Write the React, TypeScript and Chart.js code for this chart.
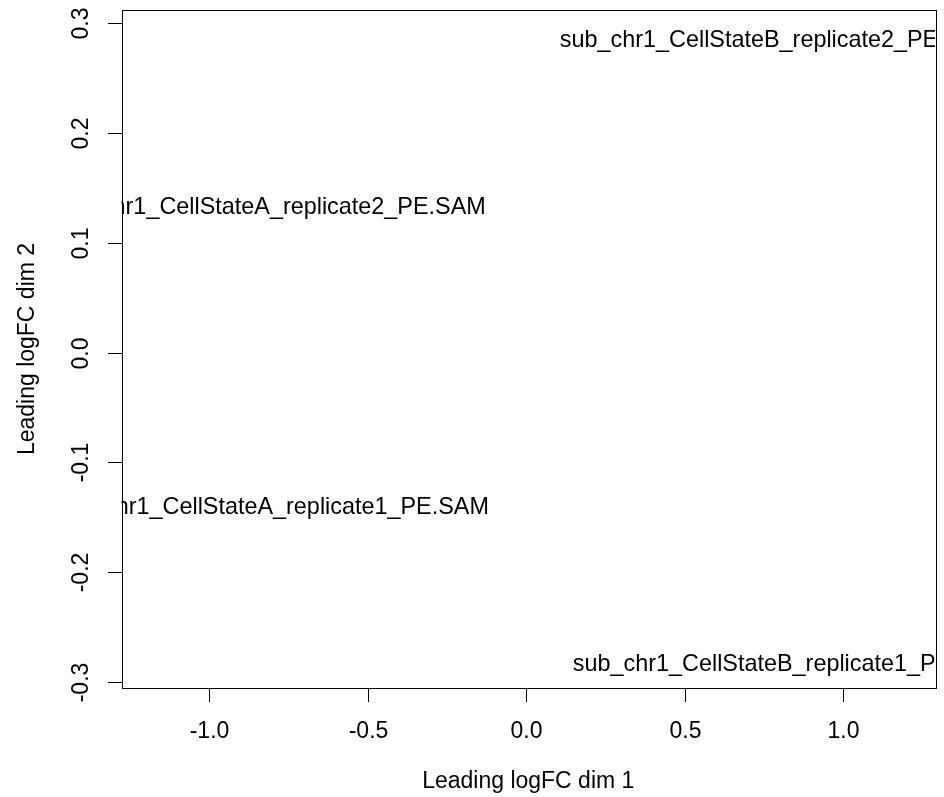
import React, { useEffect, useRef } from "react";
import { Chart, registerables } from "chart.js";

Chart.register(...registerables);

const sampleLabels = [
  "sub_chr1_CellStateA_replicate1_PE.SAM",
  "sub_chr1_CellStateA_replicate2_PE.SAM",
  "sub_chr1_CellStateB_replicate1_PE.SAM",
  "sub_chr1_CellStateB_replicate2_PE.SAM",
];
const dim1 = [-0.805, -0.815, 0.834, 0.793];
const dim2 = [-0.139, 0.1334, -0.2826, 0.2857];

const xTicks = [-1.0, -0.5, 0.0, 0.5, 1.0];
const yTicks = [-0.3, -0.2, -0.1, 0.0, 0.1, 0.2, 0.3];

const xTitle = "Leading logFC dim 1";
const yTitle = "Leading logFC dim 2";

const X_MIN = -1.277;
const X_MAX = 1.2895;
const Y_MIN = -0.3055;
const Y_MAX = 0.3121;

const FONT = '23px "Liberation Sans", Arial, Helvetica, sans-serif';
const LABEL_FONT = '23.4px "Liberation Sans", Arial, Helvetica, sans-serif';

const rPlotPlugin = {
  id: "rPlot",
  afterDatasetsDraw(chart: any) {
    const ctx = chart.ctx;
    const area = chart.chartArea;
    const meta = chart.getDatasetMeta(0);
    ctx.save();
    ctx.beginPath();
    ctx.rect(area.left, area.top, area.right - area.left, area.bottom - area.top);
    ctx.clip();
    ctx.font = LABEL_FONT;
    ctx.fillStyle = "#000";
    ctx.textAlign = "center";
    ctx.textBaseline = "alphabetic";
    meta.data.forEach((pt: any, i: number) => {
      ctx.fillText(sampleLabels[i], pt.x, pt.y + 8.3);
    });
    ctx.restore();
  },
  afterDraw(chart: any) {
    const ctx = chart.ctx;
    const area = chart.chartArea;
    const xs = chart.scales.x;
    const ys = chart.scales.y;
    ctx.save();
    ctx.strokeStyle = "#000";
    ctx.lineWidth = 1;
    ctx.strokeRect(
      Math.round(area.left) + 0.5,
      Math.round(area.top) + 0.5,
      Math.round(area.right - area.left),
      Math.round(area.bottom - area.top)
    );
    ctx.font = FONT;
    ctx.fillStyle = "#000";
    ctx.textAlign = "center";
    ctx.textBaseline = "alphabetic";
    xTicks.forEach((v) => {
      const px = Math.round(xs.getPixelForValue(v)) + 0.5;
      ctx.beginPath();
      ctx.moveTo(px, Math.round(area.bottom));
      ctx.lineTo(px, Math.round(area.bottom) + 14);
      ctx.stroke();
      ctx.fillText(v.toFixed(1), px, 737.5);
    });
    yTicks.forEach((v) => {
      const py = Math.round(ys.getPixelForValue(v)) + 0.5;
      ctx.beginPath();
      ctx.moveTo(Math.round(area.left), py);
      ctx.lineTo(Math.round(area.left) - 14, py);
      ctx.stroke();
      ctx.save();
      ctx.translate(88, py);
      ctx.rotate(-Math.PI / 2);
      ctx.fillText(v.toFixed(1), 0, 0);
      ctx.restore();
    });
    ctx.fillText(xTitle, (area.left + area.right) / 2, 788);
    ctx.save();
    ctx.translate(34, (area.top + area.bottom) / 2);
    ctx.rotate(-Math.PI / 2);
    ctx.fillText(yTitle, 0, 0);
    ctx.restore();
    ctx.restore();
  },
};

export default function App() {
  const ref = useRef<HTMLCanvasElement | null>(null);
  useEffect(() => {
    if (!ref.current) return;
    const chart = new Chart(ref.current, {
      type: "scatter",
      data: {
        datasets: [
          {
            label: "samples",
            data: dim1.map((x, i) => ({ x, y: dim2[i] })),
            pointRadius: 0,
            pointHoverRadius: 0,
          },
        ],
      },
      options: {
        responsive: false,
        animation: false,
        events: [],
        layout: { padding: { left: 121.5, right: 9, top: 10, bottom: 109 } },
        plugins: { legend: { display: false }, tooltip: { enabled: false } },
        scales: {
          x: { type: "linear", display: false, min: X_MIN, max: X_MAX },
          y: { type: "linear", display: false, min: Y_MIN, max: Y_MAX },
        },
      },
      plugins: [rPlotPlugin],
    });
    return () => chart.destroy();
  }, []);
  return (
    <div style={{ position: "fixed", left: 0, top: 0, width: 944, height: 797, background: "#fff" }}>
      <canvas ref={ref} width={944} height={797} style={{ width: 944, height: 797 }} />
    </div>
  );
}
